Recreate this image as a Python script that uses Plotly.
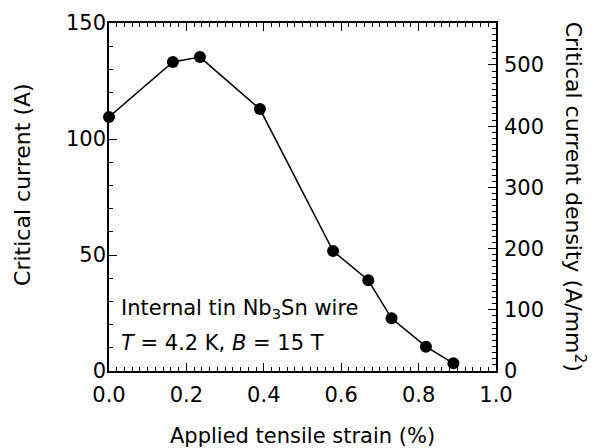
import plotly.graph_objects as go

strain = [0.0, 0.165, 0.235, 0.390, 0.579, 0.670, 0.730, 0.819, 0.890]
current = [109.5, 133.2, 135.3, 112.9, 51.7, 39.1, 22.7, 10.5, 3.3]

x_ticks = [0.0, 0.2, 0.4, 0.6, 0.8, 1.0]
x_ticklabels = ["0.0", "0.2", "0.4", "0.6", "0.8", "1.0"]
y_ticks = [0, 50, 100, 150]
y2_ticks = [0, 100, 200, 300, 400, 500]
y_range = [0, 150]
y2_range = [0, 568.6]

FONT = "DejaVu Sans"
TICK = 21

fig = go.Figure()
fig.add_trace(go.Scatter(
    x=strain, y=current, mode="lines+markers",
    line=dict(color="black", width=1.5),
    marker=dict(color="black", size=12),
    showlegend=False, cliponaxis=False,
))
fig.add_trace(go.Scatter(x=[0], y=[0], yaxis="y2", mode="markers",
                         marker=dict(opacity=0), showlegend=False, hoverinfo="skip"))

common = dict(ticks="inside", ticklen=8, tickwidth=1, tickcolor="black",
              showline=True, linecolor="black", linewidth=1.5,
              showgrid=False, zeroline=False, automargin=False,
              tickfont=dict(size=TICK, family=FONT, color="black"))

fig.update_layout(
    width=595, height=448,
    margin=dict(l=109, r=99, t=23, b=77),
    plot_bgcolor="white", paper_bgcolor="white",
    font=dict(family=FONT, color="black", size=21),
    xaxis=dict(range=[0, 1], tickvals=x_ticks, ticktext=x_ticklabels, mirror="ticks",
               minor=dict(ticks="inside", dtick=0.02, ticklen=4, tickcolor="black", showgrid=False),
               ticklabelstandoff=4, **common),
    yaxis=dict(range=y_range, tickvals=y_ticks,
               minor=dict(ticks="inside", dtick=10, ticklen=4, tickcolor="black", showgrid=False),
               ticklabelstandoff=-3, **common),
    yaxis2=dict(overlaying="y", side="right", range=y2_range, tickvals=y2_ticks,
                minor=dict(ticks="inside", dtick=10, ticklen=4, tickcolor="black", showgrid=False),
                ticklabelstandoff=2, **common),
)

# axis titles
fig.add_annotation(x=0.5, y=-0.187, xref="paper", yref="paper", xanchor="center", yanchor="middle",
                   text="Applied tensile strain (%)", showarrow=False, font=dict(size=21))
fig.add_annotation(x=-0.222, y=0.535, xref="paper", yref="paper", xanchor="center", yanchor="middle",
                   text="Critical current (A)", textangle=-90, showarrow=False, font=dict(size=22))
fig.add_annotation(x=1.205, y=0.5, xref="paper", yref="paper", xanchor="center", yanchor="middle",
                   text="Critical current density (A/mm<sup>2</sup>)", textangle=90, showarrow=False,
                   font=dict(size=22))

# in-plot labels
fig.add_annotation(x=0.025, y=26.7, xref="paper", yref="y", xanchor="left", yanchor="middle",
                   text="Internal tin Nb<sub>3</sub>Sn wire", showarrow=False, font=dict(size=21))
fig.add_annotation(x=0.025, y=11.9, xref="paper", yref="y", xanchor="left", yanchor="middle",
                   text="<i>T</i> = 4.2 K, <i>B</i> = 15 T", showarrow=False, font=dict(size=21))

fig.write_html("out.html", config={"displayModeBar": False},
               post_script="document.body.style.margin='0px';")
